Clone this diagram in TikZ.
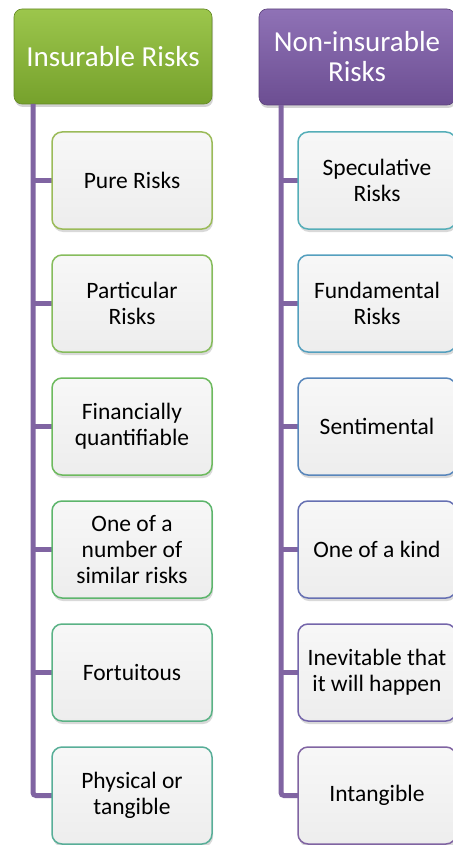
\documentclass[tikz,border=0pt]{standalone}
\usepackage{fontspec}
\setmainfont{Carlito}
\usetikzlibrary{shadows}
\definecolor{linepurple}{HTML}{8064A2}
\definecolor{hdgreenT}{HTML}{9CC64C}
\definecolor{hdgreenB}{HTML}{76A12C}
\definecolor{hdpurpT}{HTML}{8F72B6}
\definecolor{hdpurpB}{HTML}{6C4E92}
\definecolor{bA}{HTML}{9BBB59}
\definecolor{bB}{HTML}{86BC5C}
\definecolor{bC}{HTML}{6DBA5E}
\definecolor{bD}{HTML}{5DB56C}
\definecolor{bE}{HTML}{5AB285}
\definecolor{bF}{HTML}{58AE98}
\definecolor{rA}{HTML}{55AEB8}
\definecolor{rB}{HTML}{549FBE}
\definecolor{rC}{HTML}{5886BB}
\definecolor{rD}{HTML}{6670B2}
\definecolor{rE}{HTML}{7465AA}
\definecolor{rF}{HTML}{8064A2}
\tikzset{
  header/.style={rounded corners=8pt, text=white, align=center,
    font=\fontsize{29}{30}\selectfont, inner sep=0pt,
    drop shadow={shadow xshift=1pt, shadow yshift=-3pt, opacity=0.35}},
  child/.style={rounded corners=10pt, line width=1.5pt, align=center,
    top color=white!97!black, bottom color=white!93!black,
    font=\fontsize{23.5}{26}\selectfont, inner sep=0pt,
    minimum height=97pt,
    drop shadow={shadow xshift=1pt, shadow yshift=-3pt, opacity=0.3}},
  conn/.style={draw=linepurple, line width=5pt}
}
\begin{document}
\begin{tikzpicture}[x=1pt,y=-1pt]
\useasboundingbox (0,0) rectangle (452,845);
% headers
\node[header, top color=hdgreenT, bottom color=hdgreenB, draw=hdgreenB!85!black, line width=0.6pt,
  minimum width=198pt, minimum height=95pt] (h1) at (113,56.5) {Insurable Risks};
\node[header, top color=hdpurpT, bottom color=hdpurpB, draw=hdpurpB!85!black, line width=0.6pt,
  minimum width=196pt, minimum height=96pt] (h2) at (357,57) {Non-insurable\\Risks};
% lines
\coordinate (lt) at (33,104);
\coordinate (rt) at (281,105);
\path (132,180.5) coordinate (l1) (132,303.5) coordinate (l2) (132,426.5) coordinate (l3)
      (132,549.5) coordinate (l4) (132,672.5) coordinate (l5) (132,795.5) coordinate (l6);
\path (377,180.5) coordinate (r1) (377,303.5) coordinate (r2) (377,426.5) coordinate (r3)
      (377,549.5) coordinate (r4) (377,672.5) coordinate (r5) (377,795.5) coordinate (r6);
\draw[conn, rounded corners=3pt] (lt) |- (l6);
\foreach \i in {1,...,5} \draw[conn] (lt |- l\i) -- (l\i);
\draw[conn, rounded corners=3pt] (rt) |- (r6);
\foreach \i in {1,...,5} \draw[conn] (rt |- r\i) -- (r\i);
% left children
\node[child, draw=bA, minimum width=160pt] (c1) at (l1) {Pure Risks};
\node[child, draw=bB, minimum width=160pt] (c2) at (l2) {Particular\\Risks};
\node[child, draw=bC, minimum width=160pt] (c3) at (l3) {Financially\\quantifiable};
\node[child, draw=bD, minimum width=160pt] (c4) at (l4) {One of a\\number of\\similar risks};
\node[child, draw=bE, minimum width=160pt] (c5) at (l5) {Fortuitous};
\node[child, draw=bF, minimum width=160pt] (c6) at (l6) {Physical or\\tangible};
% right children
\node[child, draw=rA, minimum width=158pt] (d1) at (r1) {Speculative\\Risks};
\node[child, draw=rB, minimum width=158pt] (d2) at (r2) {Fundamental\\Risks};
\node[child, draw=rC, minimum width=158pt] (d3) at (r3) {Sentimental};
\node[child, draw=rD, minimum width=158pt] (d4) at (r4) {One of a kind};
\node[child, draw=rE, minimum width=158pt] (d5) at (r5) {Inevitable that\\it will happen};
\node[child, draw=rF, minimum width=158pt] (d6) at (r6) {Intangible};
\end{tikzpicture}
\end{document}
